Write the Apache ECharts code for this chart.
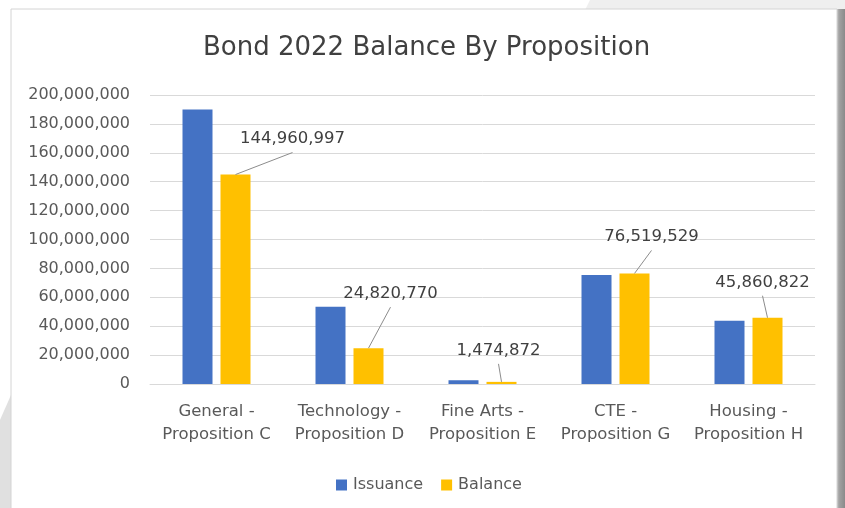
<!DOCTYPE html>
<html>
<head>
<meta charset="utf-8">
<script src="https://cdn.jsdelivr.net/npm/echarts@6/dist/echarts.min.js"></script>
<style>
html,body{margin:0;padding:0;background:#fff;}
#c{width:845px;height:508px;}
</style>
</head>
<body>
<div id="c"></div>
<script>
const categories = ["General -\nProposition C","Technology -\nProposition D","Fine Arts -\nProposition E","CTE -\nProposition G","Housing -\nProposition H"];
const issuance = [190000000, 53500000, 2600000, 75500000, 43700000];
const balance = [144960997, 24820770, 1474872, 76519529, 45860822];
const yTicks = {min: 0, max: 200000000, interval: 20000000};

const labelShift = [[57,-22],[22,-41],[-3,-18],[17,-23],[-5,-22]];
const FONT = '"DejaVu Sans", sans-serif';
const fmt = v => Number(v).toLocaleString('en-US');
const BAR_W = 30, BAR_GAP = 8;

const chart = echarts.init(document.getElementById('c'), null, {renderer:'canvas'});
chart.setOption({
  backgroundColor: '#ffffff',
  animation: false,
  graphic: [
    {type:'polygon', silent:true, z:-10, shape:{points:[[590,0],[845,0],[845,10],[585,10]]}, style:{fill:'#efefef'}},
    {type:'polygon', silent:true, z:-10, shape:{points:[[0,420],[11,395],[11,508],[0,508]]}, style:{fill:'#e0e0e0'}},
    {type:'rect', silent:true, z:-9, shape:{x:836,y:9,width:9,height:499}, style:{fill:new echarts.graphic.LinearGradient(0,0,1,0,[{offset:0,color:'#c8c8c8'},{offset:0.4,color:'#a0a0a0'},{offset:1,color:'#8a8a8a'}])}},
    {type:'rect', silent:true, z:-8, shape:{x:11,y:9,width:826,height:520}, style:{fill:'#ffffff', stroke:'#d4d4d4', lineWidth:1}}
  ],
  title: {
    text: 'Bond 2022 Balance By Proposition',
    left: 203, top: 35, padding: 0,
    textStyle: {fontFamily: FONT, fontSize: 26, fontWeight: 'normal', color: '#404040'}
  },
  legend: {
    data: ['Issuance','Balance'],
    bottom: 15, left: 336, padding: 0,
    icon: 'rect', itemWidth: 11, itemHeight: 11, itemGap: 18,
    textStyle: {fontFamily: FONT, fontSize: 16, color: '#595959', padding: [0,0,0,1]}
  },
  grid: {left: 150, right: 30, top: 95, bottom: 124},
  xAxis: {
    type: 'category',
    data: categories,
    axisTick: {show: false},
    axisLine: {lineStyle: {color: '#d9d9d9'}},
    axisLabel: {fontFamily: FONT, fontSize: 16.5, color: '#595959', lineHeight: 23, margin: 16, interval: 0}
  },
  yAxis: {
    type: 'value',
    min: yTicks.min, max: yTicks.max, interval: yTicks.interval,
    axisLine: {show: false}, axisTick: {show: false},
    splitLine: {lineStyle: {color: '#d9d9d9', width: 1}},
    axisLabel: {fontFamily: FONT, fontSize: 16, color: '#595959', margin: 20, formatter: fmt}
  },
  series: [
    {
      name: 'Issuance', type: 'bar', data: issuance,
      barWidth: BAR_W, barGap: (BAR_GAP / BAR_W * 100) + '%',
      itemStyle: {color: '#4472C4'}
    },
    {
      name: 'Balance', type: 'bar', data: balance,
      barWidth: BAR_W,
      itemStyle: {color: '#FFC000'},
      label: {
        show: true, position: 'top', distance: 5,
        fontFamily: FONT, fontSize: 16.5, color: '#404040',
        formatter: p => fmt(p.value)
      },
      labelLayout: p => ({dx: labelShift[p.dataIndex][0], dy: labelShift[p.dataIndex][1]})
    },
    {
      name: 'leader', type: 'custom', silent: true, z: 5,
      data: balance.map((v, i) => [i, v]),
      encode: {x: 0, y: 1},
      renderItem: (params, api) => {
        const i = api.value(0);
        const top = api.coord([i, api.value(1)]);
        const s = labelShift[i];
        const x0 = top[0] + BAR_W / 2 + BAR_GAP / 2, y0 = top[1];
        const x1 = x0 + s[0], y1 = y0 - 5 + s[1] + 5;
        return {type: 'line', shape: {x1: x0, y1: y0, x2: x1, y2: y1}, style: {stroke: '#8c8c8c', lineWidth: 1}};
      }
    }
  ]
});
</script>
</body>
</html>
